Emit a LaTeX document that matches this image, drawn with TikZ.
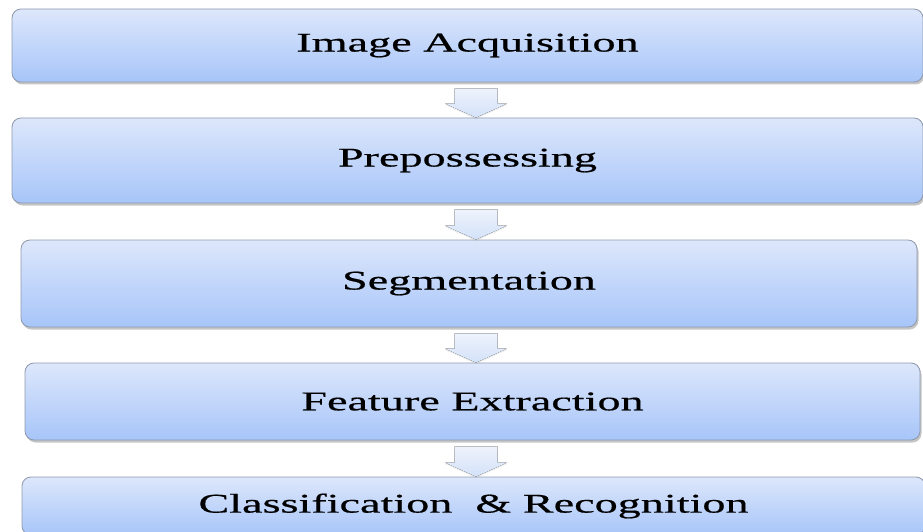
\documentclass[tikz,border=0pt]{standalone}
\usepackage{fontspec}
\setmainfont{Liberation Serif}[FakeStretch=1.71, FakeBold=0.6]
\usetikzlibrary{calc,shadows}
\definecolor{boxtop}{HTML}{DDE7FB}
\definecolor{boxbottom}{HTML}{A7C5F9}
\definecolor{boxline}{HTML}{8E99AC}
\definecolor{arrtop}{HTML}{EEF3FC}
\definecolor{arrbottom}{HTML}{D3E1F9}
\newcommand{\flowstep}[2]{%
  \fill[steparrow] ($(#1.south -| axis)+(-21.5,6)$) -- ($(#1.south -| axis)+(21.5,6)$)
    -- ($(#2.north -| axis)+(21.5,-14)$) -- ($(#2.north -| axis)+(31,-14)$)
    -- (#2.north -| axis) -- ($(#2.north -| axis)+(-31,-14)$)
    -- ($(#2.north -| axis)+(-21.5,-14)$) -- cycle;}
\begin{document}
\begin{tikzpicture}[x=1pt, y=-1pt,
    stagebox/.style={draw=boxline, line width=0.8pt, rounded corners=9pt,
      top color=boxtop, bottom color=boxbottom, inner sep=0pt,
      font=\fontsize{27}{30}\selectfont,
      drop shadow={shadow xshift=1.5pt, shadow yshift=-2.5pt, fill=black!45, opacity=.5}},
    steparrow/.style={top color=arrtop, bottom color=arrbottom,
      drop shadow={shadow xshift=0pt, shadow yshift=-1.5pt, fill=black!25, opacity=.25}}]
  \clip (0,0) rectangle (923,532);
  \useasboundingbox (0,0) rectangle (923,532);
  \coordinate (axis) at (476,0);
  % stages
  \node[stagebox, minimum width=911, minimum height=73] (acq) at (467.5,45.5) {Image Acquisition};
  \node[stagebox, minimum width=911, minimum height=85] (pre) at (467.5,160.5) {Prepossessing};
  \node[stagebox, minimum width=896, minimum height=87] (seg) at (469,283.5) {Segmentation};
  \node[stagebox, minimum width=895, minimum height=77] (feat) at (472.5,401.5) {Feature Extraction};
  \node[stagebox, minimum width=903, minimum height=58] (cls) at (473.5,506) {Classification~ \& Recognition};
  % arrows
  \flowstep{acq}{pre}
  \flowstep{pre}{seg}
  \flowstep{seg}{feat}
  \flowstep{feat}{cls}
\end{tikzpicture}
\end{document}
